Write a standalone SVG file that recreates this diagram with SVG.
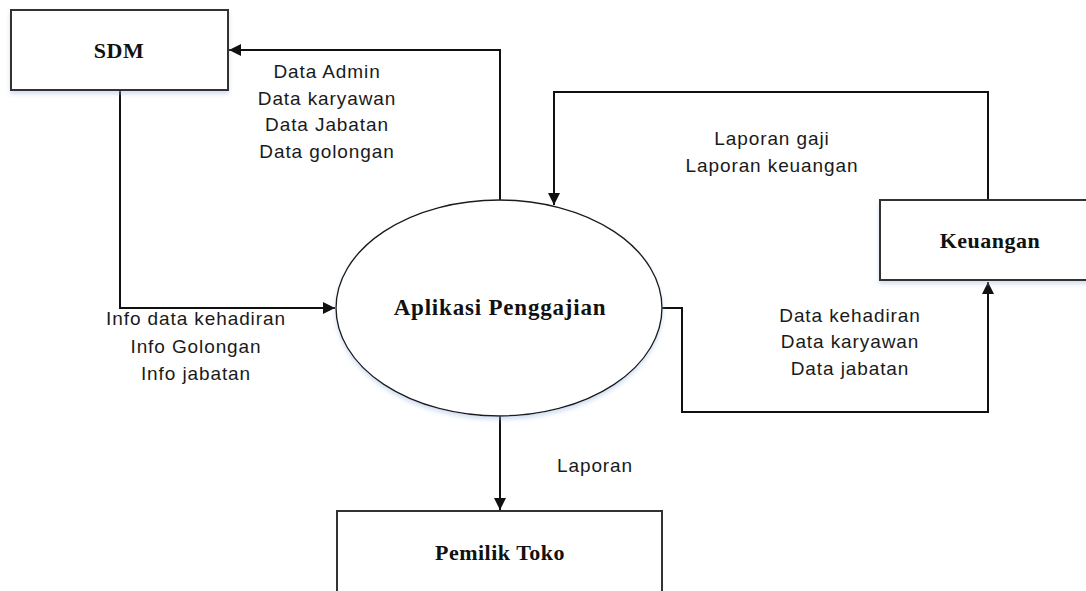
<svg xmlns="http://www.w3.org/2000/svg" width="1086" height="591" viewBox="0 0 1086 591">
  <style>
    .box { fill: #ffffff; stroke: #333333; stroke-width: 2; }
    .proc { fill: #ffffff; stroke: #1a1a1a; stroke-width: 1.4; }
    .title { font-family: "Liberation Serif", "Times New Roman", serif; font-weight: bold; font-size: 22px; letter-spacing: 0.5px; fill: #111111; text-anchor: middle; }
    .label { font-family: "Liberation Sans", Arial, sans-serif; font-size: 19px; letter-spacing: 0.9px; fill: #1a1a1a; text-anchor: middle; }
    .conn { fill: none; stroke: #111111; stroke-width: 2; }
  </style>
  <defs>
    <marker id="arrow" markerUnits="userSpaceOnUse" markerWidth="13" markerHeight="12" refX="12" refY="6" orient="auto">
      <path d="M0,0 L12,6 L0,12 z" fill="#111111"/>
    </marker>
    <filter id="shadow" x="-10%" y="-10%" width="120%" height="130%">
      <feDropShadow dx="0" dy="3" stdDeviation="2" flood-color="#9db8e0" flood-opacity="0.45"/>
    </filter>
  </defs>
  <rect width="1086" height="591" fill="#ffffff"/>

  <g id="connectors">
    <path class="conn" d="M500,200 L500,50 L229,50" marker-end="url(#arrow)"/>
    <path class="conn" d="M120,91 L120,308 L335,308" marker-end="url(#arrow)"/>
    <path class="conn" d="M988,200 L988,92 L554,92 L554,205" marker-end="url(#arrow)"/>
    <path class="conn" d="M662,308 L682,308 L682,412 L988,412 L988,282" marker-end="url(#arrow)"/>
    <path class="conn" d="M500,416 L500,510" marker-end="url(#arrow)"/>
  </g>

  <g id="labels">
    <text class="label" x="327" y="78">Data Admin</text>
    <text class="label" x="327" y="105">Data karyawan</text>
    <text class="label" x="327" y="131">Data Jabatan</text>
    <text class="label" x="327" y="158">Data golongan</text>
    <text class="label" x="772" y="145">Laporan gaji</text>
    <text class="label" x="772" y="172">Laporan keuangan</text>
    <text class="label" x="196" y="325">Info data kehadiran</text>
    <text class="label" x="196" y="353">Info Golongan</text>
    <text class="label" x="196" y="380">Info jabatan</text>
    <text class="label" x="850" y="322">Data kehadiran</text>
    <text class="label" x="850" y="348">Data karyawan</text>
    <text class="label" x="850" y="375">Data jabatan</text>
    <text class="label" x="595" y="472">Laporan</text>
  </g>

  <g id="sdm">
    <rect class="box" x="11" y="10" width="217" height="80" filter="url(#shadow)"/>
    <text class="title" x="119" y="58">SDM</text>
  </g>

  <g id="aplikasi-penggajian">
    <ellipse class="proc" cx="499" cy="308" rx="163" ry="108" filter="url(#shadow)"/>
    <text class="title" x="500" y="315" style="font-size:23px;letter-spacing:0.8px">Aplikasi Penggajian</text>
  </g>

  <g id="keuangan">
    <rect class="box" x="880" y="200" width="216" height="80" filter="url(#shadow)"/>
    <text class="title" x="990" y="248">Keuangan</text>
  </g>

  <g id="pemilik-toko">
    <rect class="box" x="337" y="511" width="325" height="100"/>
    <text class="title" x="500" y="560">Pemilik Toko</text>
  </g>
</svg>
